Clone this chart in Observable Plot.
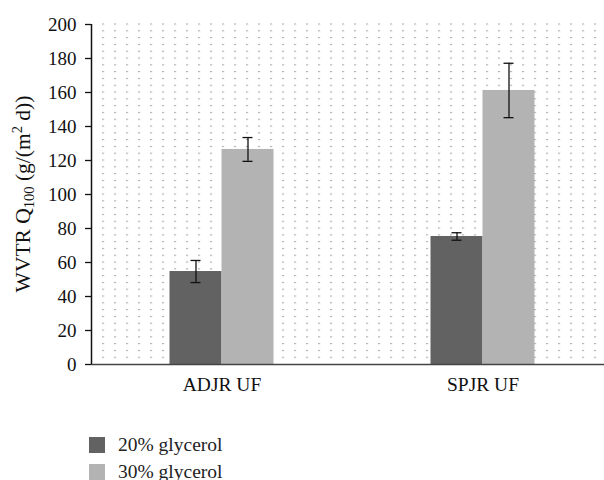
<!DOCTYPE html>
<html>
<head>
<meta charset="utf-8">
<script src="https://cdn.jsdelivr.net/npm/d3@7"></script>
<script src="https://cdn.jsdelivr.net/npm/@observablehq/plot@0.6"></script>
<style>
  body { margin: 0; background: #fff; font-family: 'Liberation Serif', 'DejaVu Serif', serif; }
  #legend { margin-top: 31px; margin-left: 89px; font-size: 19.5px; color: #222; font-family: 'Liberation Serif', serif; }
  .row { display: flex; align-items: center; height: 27px; }
  .sw { width: 16px; height: 16px; margin-right: 13px; }
</style>
</head>
<body>
<div id="chart"></div>
<div id="legend"></div>
<script>
const categories = ["ADJR UF", "SPJR UF"];
const series = ["20% glycerol", "30% glycerol"];
const colors = ["#626262", "#b3b3b3"];
const values20 = [54.7, 75.3];
const errors20 = [6.5, 2.2];
const values30 = [126.5, 161.2];
const errors30 = [7.0, 16.0];
const yTicks = [0, 20, 40, 60, 80, 100, 120, 140, 160, 180, 200];

const rows = [];
categories.forEach((c, i) => {
  rows.push({cat: c, series: series[0], value: values20[i], err: errors20[i], side: -1});
  rows.push({cat: c, series: series[1], value: values30[i], err: errors30[i], side: 1});
});
const r20 = rows.filter(d => d.side === -1);
const r30 = rows.filter(d => d.side === 1);

const W = 604, H = 400;
const left = 91, right = 613;
const bw = (right - left) / 2;   // band width
const barW = 52;
const capW = 10;

const font = "'Liberation Serif', 'DejaVu Serif', serif";

const chart = Plot.plot({
  width: W,
  height: H,
  marginLeft: left,
  marginRight: 0,
  marginTop: 24,
  marginBottom: 36,
  style: {fontFamily: font, fontSize: "19px", background: "transparent", overflow: "visible"},
  x: {domain: categories, range: [left, right], padding: 0, axis: null},
  y: {domain: [0, 200], axis: null},
  color: {domain: series, range: colors},
  marks: [
    Plot.barY(r20, {x: "cat", y: "value", fill: "series", insetLeft: bw / 2 - barW, insetRight: bw / 2}),
    Plot.barY(r30, {x: "cat", y: "value", fill: "series", insetLeft: bw / 2, insetRight: bw / 2 - barW}),
    Plot.ruleY([0], {stroke: "#444", strokeWidth: 1.6}),
    // error bars
    Plot.ruleX(r20, {x: "cat", y1: d => d.value - d.err, y2: d => d.value + d.err, dx: -barW / 2, stroke: "#111", strokeWidth: 1.3}),
    Plot.ruleX(r30, {x: "cat", y1: d => d.value - d.err, y2: d => d.value + d.err, dx: barW / 2, stroke: "#111", strokeWidth: 1.3}),
    Plot.tickY(r20, {x: "cat", y: d => d.value - d.err, insetLeft: bw / 2 - barW / 2 - capW / 2, insetRight: bw / 2 + barW / 2 - capW / 2, stroke: "#111", strokeWidth: 1.3}),
    Plot.tickY(r20, {x: "cat", y: d => d.value + d.err, insetLeft: bw / 2 - barW / 2 - capW / 2, insetRight: bw / 2 + barW / 2 - capW / 2, stroke: "#111", strokeWidth: 1.3}),
    Plot.tickY(r30, {x: "cat", y: d => d.value - d.err, insetLeft: bw / 2 + barW / 2 - capW / 2, insetRight: bw / 2 - barW / 2 - capW / 2, stroke: "#111", strokeWidth: 1.3}),
    Plot.tickY(r30, {x: "cat", y: d => d.value + d.err, insetLeft: bw / 2 + barW / 2 - capW / 2, insetRight: bw / 2 - barW / 2 - capW / 2, stroke: "#111", strokeWidth: 1.3}),
    // axes
    Plot.axisY(yTicks, {ticks: yTicks, tickSize: 6, tickPadding: 9, fontSize: 19, fontFamily: font, stroke: "#111", color: "#111", label: null, strokeWidth: 1.3}),
    Plot.ruleX([0], {x: () => categories[0], dx: -bw / 2, y1: 0, y2: 200, stroke: "#111", strokeWidth: 1.5}),
    Plot.axisX(categories, {tickSize: 0, tickPadding: 13, fontSize: 19.5, fontFamily: font, color: "#111", label: null})
  ]
});

const svg = d3.select(chart);
svg.selectAll("g[aria-label='y-axis tick label'] text, g[aria-label='y-axis tick label']")
  .attr("font-family", font).attr("font-size", 19);
svg.selectAll("g[aria-label='x-axis tick label'] text, g[aria-label='x-axis tick label']")
  .attr("font-family", font).attr("font-size", 19.5);

// dotted background grid via SVG pattern
const yr = chart.scale("y").range; // [bottom, top]
const defs = svg.insert("defs", ":first-child");
const pat = defs.append("pattern")
  .attr("id", "dots").attr("patternUnits", "userSpaceOnUse")
  .attr("x", left + 11.25).attr("y", yr[1] - 0.5)
  .attr("width", 12).attr("height", (yr[0] - yr[1]) / 50);
pat.append("rect").attr("x", 0).attr("y", 0).attr("width", 1.5).attr("height", 1.1).attr("fill", "#8a8a8a");
svg.insert("rect", "defs + *")
  .attr("x", left + 2).attr("y", yr[1] - 1)
  .attr("width", W - left - 2).attr("height", yr[0] - yr[1] - 2)
  .attr("fill", "url(#dots)");

// y-axis title with subscript / superscript
const t = svg.append("text")
  .attr("transform", `translate(30,${(yr[0] + yr[1]) / 2}) rotate(-90)`)
  .attr("text-anchor", "middle")
  .attr("font-family", font).attr("font-size", 21.5).attr("fill", "#111");
t.append("tspan").text("WVTR Q");
t.append("tspan").attr("font-size", 14.5).attr("dy", 4).text("100");
t.append("tspan").attr("dy", -4).text(" (g/(m");
t.append("tspan").attr("font-size", 14.5).attr("dy", -8).text("2");
t.append("tspan").attr("dy", 8).text(" d))");

document.getElementById("chart").appendChild(chart);

// legend
const legend = d3.select("#legend");
series.forEach((s, i) => {
  const row = legend.append("div").attr("class", "row");
  row.append("div").attr("class", "sw").style("background", colors[i]);
  row.append("span").text(s);
});
</script>
</body>
</html>
